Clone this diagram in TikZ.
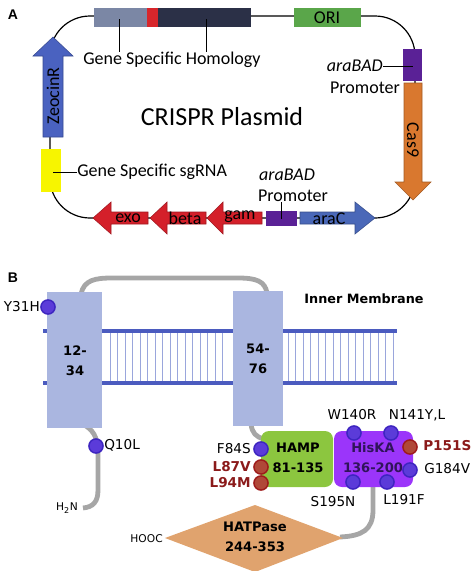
\documentclass[tikz,border=0pt]{standalone}
\usepackage{fontspec}
\setmainfont{Carlito}
\newfontfamily\dvs{DejaVu Sans}
\newfontfamily\lib{Liberation Sans}
\usetikzlibrary{calc}
\definecolor{homgrey}{HTML}{7B87A5}
\definecolor{homred}{HTML}{D7262B}
\definecolor{homnavy}{HTML}{2B3047}
\definecolor{origreen}{HTML}{5AA64A}
\definecolor{promviolet}{HTML}{5A2196}
\definecolor{casorange}{HTML}{D9782F}
\definecolor{zeoblue}{HTML}{4A62C0}
\definecolor{sgyellow}{HTML}{F7F500}
\definecolor{genered}{HTML}{D4202A}
\definecolor{arablue}{HTML}{4A68B8}
\definecolor{tmblue}{HTML}{AAB6E0}
\definecolor{membblue}{HTML}{4B5BBF}
\definecolor{lipidblue}{HTML}{9AA6DC}
\definecolor{chaingrey}{HTML}{A6A6A6}
\definecolor{hampgreen}{HTML}{8CC63F}
\definecolor{hiskaviolet}{HTML}{9B35FA}
\definecolor{hiskatext}{HTML}{30145A}
\definecolor{hatptan}{HTML}{E0A36E}
\definecolor{mutred}{HTML}{8B1A1A}
\definecolor{mutbfill}{HTML}{5B3BD9}
\definecolor{mutbedge}{HTML}{3D25C0}
\definecolor{mutrfill}{HTML}{B04838}
\definecolor{mutredge}{HTML}{9E1B1B}
\tikzset{
	plasmid/.style={line width=0.9pt},%
	leader/.style={line width=0.6pt},%
	gene/.style={draw=#1!75!black,fill=#1,line width=0.4pt},%
	genetext/.style={font=\fontsize{13.5}{15}\selectfont,inner sep=0pt},%
	membrane/.style={membblue,line width=2.3pt},%
	lipid/.style={lipidblue,line width=0.5pt},%
	chain/.style={chaingrey,line width=3.6pt},%
	mutb/.style={fill=mutbfill,draw=mutbedge,line width=1.1pt},%
	mutr/.style={fill=mutrfill,draw=mutredge,line width=1.1pt},%
	domtext/.style={font=\dvs\bfseries\fontsize{9.8}{15}\selectfont,align=center,inner sep=0pt},%
	mutlabel/.style={font=\dvs\fontsize{10.2}{12}\selectfont,inner sep=0pt},%
	mutbold/.style={font=\dvs\bfseries\fontsize{10.2}{12}\selectfont,text=mutred,inner sep=0pt},%
	panel/.style={font=\lib\bfseries\fontsize{10.5}{12}\selectfont,inner sep=0pt},%
}
\def\rmut{5.3pt}

\begin{document}
\begin{tikzpicture}[%
		x=0.75pt,y=-0.75pt,%
		]
		\useasboundingbox (0,0) rectangle (474,571);
		% panel A: plasmid map
		\node[panel] (A) at (13,15) {A};
		\draw[plasmid,rounded corners=30pt] (50,16) rectangle (415,218);
		\fill[homgrey] (94,8) rectangle (147,27);
		\fill[homred] (147,8) rectangle (158,27);
		\fill[homnavy] (158,8) rectangle (251,27);
		\fill[origreen] (294,8) rectangle (361,27);
		\node[genetext] (ori) at (327,18) {ORI};
		\node[genetext] (homtxt) at (172,60) {Gene Specific Homology};
		\coordinate (homL) at (119,19);
		\coordinate (homR) at (206,19);
		\draw[leader] (homL) -- (homL |- homtxt.north);
		\draw[leader] (homR) -- (homR |- homtxt.north);
		% Cas9 side
		\fill[promviolet] (403,49) rectangle (422,81);
		\coordinate (promRc) at (413,66);
		\node[genetext,anchor=east] (arabadR) at (383,66) {\itshape araBAD};
		\node[genetext] (promR) at (365,88) {Promoter};
		\draw[leader] (arabadR.east) -- (promRc);
		\draw[gene=casorange] (413,200) -- (431,182) -- (422,182) -- (422,83) -- (404,83) -- (404,182) -- (395,182) -- cycle;
		\node[genetext,rotate=-90] (cas) at (413,140) {Cas9};
		% ZeocinR side
		\draw[gene=zeoblue] (53,37) -- (73,56) -- (63,56) -- (63,137) -- (43,137) -- (43,56) -- (33,56) -- cycle;
		\node[genetext,rotate=90] (zeo) at (53,96) {ZeocinR};
		\fill[sgyellow] (41,149) rectangle (61,192);
		\coordinate (sgc) at (53,172);
		\node[genetext,anchor=west] (sgtxt) at (77,172) {Gene Specific sgRNA};
		\draw[leader] (sgc) -- (sgtxt.west);
		\node[font=\fontsize{19.5}{22}\selectfont] (title) at (222,117) {CRISPR Plasmid};
		% bottom operon
		\draw[gene=genered] (93,218) -- (111,202) -- (111,212) -- (148,212) -- (148,224) -- (111,224) -- (111,234) -- cycle;
		\draw[gene=genered] (150,218) -- (167,202) -- (167,212) -- (206,212) -- (206,224) -- (167,224) -- (167,234) -- cycle;
		\draw[gene=genered] (207,218) -- (223,202) -- (223,212) -- (262,212) -- (262,224) -- (223,224) -- (223,234) -- cycle;
		\node[genetext] (exo) at (128,218) {exo};
		\node[genetext] (beta) at (185,218) {beta};
		\node[genetext] (gam) at (240,217) {gam};
		\fill[promviolet] (266,211) rectangle (297,226);
		\coordinate (promBc) at (281,219);
		\draw[gene=arablue] (375,218) -- (355,202) -- (355,212) -- (300,212) -- (300,224) -- (355,224) -- (355,234) -- cycle;
		\node[genetext] (arac) at (329,219) {araC};
		\node[genetext] (arabadB) at (287,175) {\itshape araBAD};
		\node[genetext] (promB) at (293,196) {Promoter};
		\draw[leader] (promBc) -- (promBc |- promB.south);
		% panel B: membrane topology
		\node[panel] (B) at (13,278) {B};
		\draw[membrane] (43,331) -- (397,331);
		\draw[membrane] (43,383) -- (397,383);
		\foreach \x in {110,117.5,...,227} \draw[lipid] (\x,333) -- (\x,381);
		\foreach \x in {288,295.5,...,396} \draw[lipid] (\x,333) -- (\x,381);
		\draw[chain] (81,294) .. controls (84,280) and (95,278) .. (112,278) -- (238,278) .. controls (256,278) and (265,281) .. (267,293);
		\draw[chain] (86,426) .. controls (95,432) and (98,440) .. (98,455) -- (98,490) .. controls (98,502) and (93,507) .. (83,508);
		\draw[chain] (251,424) .. controls (252,433) and (256,437) .. (264,439);
		\draw[chain] (373,486) -- (373,510) .. controls (373,530) and (362,536) .. (340,537);
		\fill[tmblue] (47,292) rectangle (102,428);
		\fill[tmblue] (233,291) rectangle (283,426);
		\node[domtext] (tm1) at (75,361) {12-\\34};
		\node[domtext] (tm2) at (258,359) {54-\\76};
		\node[font=\dvs\bfseries\fontsize{9.6}{12}\selectfont] (im) at (364,299) {Inner Membrane};
		\draw[mutb] (48,307) circle[radius=\rmut];
		\node[mutlabel,anchor=east] (y31h) at (40,307) {Y31H};
		\draw[mutb] (96,446) circle[radius=\rmut];
		\node[mutlabel,anchor=west] (q10l) at (104,445) {Q10L};
		\node[font=\dvs\fontsize{8}{10}\selectfont,inner sep=0pt] (nterm) at (67,508) {H\textsubscript{2}N};
		% domains
		\fill[hampgreen,rounded corners=6pt] (261,431) rectangle (333,487);
		\fill[hiskaviolet,rounded corners=6pt] (334,431) rectangle (413,487);
		\node[domtext] (hamp) at (298,458) {HAMP\\81-135};
		\node[domtext,text=hiskatext] (hiska) at (373,458) {HisKA\\136-200};
		\fill[hatptan] (165,538) -- (255,505) -- (343,538) -- (255,572) -- cycle;
		\node[domtext] (hatp) at (255,537) {HATPase\\244-353};
		\node[font=\dvs\fontsize{8}{10}\selectfont,inner sep=0pt,anchor=east] (cterm) at (163,539) {HOOC};
		% mutations
		\draw[mutb] (261,449) circle[radius=\rmut];
		\draw[mutr] (261,467) circle[radius=\rmut];
		\draw[mutr] (261,483) circle[radius=\rmut];
		\node[mutlabel,anchor=east] (f84s) at (251,449) {F84S};
		\node[mutbold,anchor=east] (l87v) at (251,467) {L87V};
		\node[mutbold,anchor=east] (l94m) at (251,483) {L94M};
		\draw[mutb] (354,433) circle[radius=\rmut];
		\draw[mutb] (391,433) circle[radius=\rmut];
		\draw[mutb] (353,482) circle[radius=\rmut];
		\draw[mutb] (387,482) circle[radius=\rmut];
		\draw[mutr] (410,447) circle[radius=\rmut];
		\draw[mutb] (410,470) circle[radius=\rmut];
		\node[mutlabel] (w140r) at (352,415) {W140R};
		\node[mutlabel] (n141y) at (417,415) {N141Y,L};
		\node[mutbold,anchor=west] (p151s) at (423,446) {P151S};
		\node[mutlabel,anchor=west] (g184v) at (424,469) {G184V};
		\node[mutlabel] (s195n) at (333,502) {S195N};
		\node[mutlabel] (l191f) at (404,500) {L191F};
	\end{tikzpicture}
\end{document}
